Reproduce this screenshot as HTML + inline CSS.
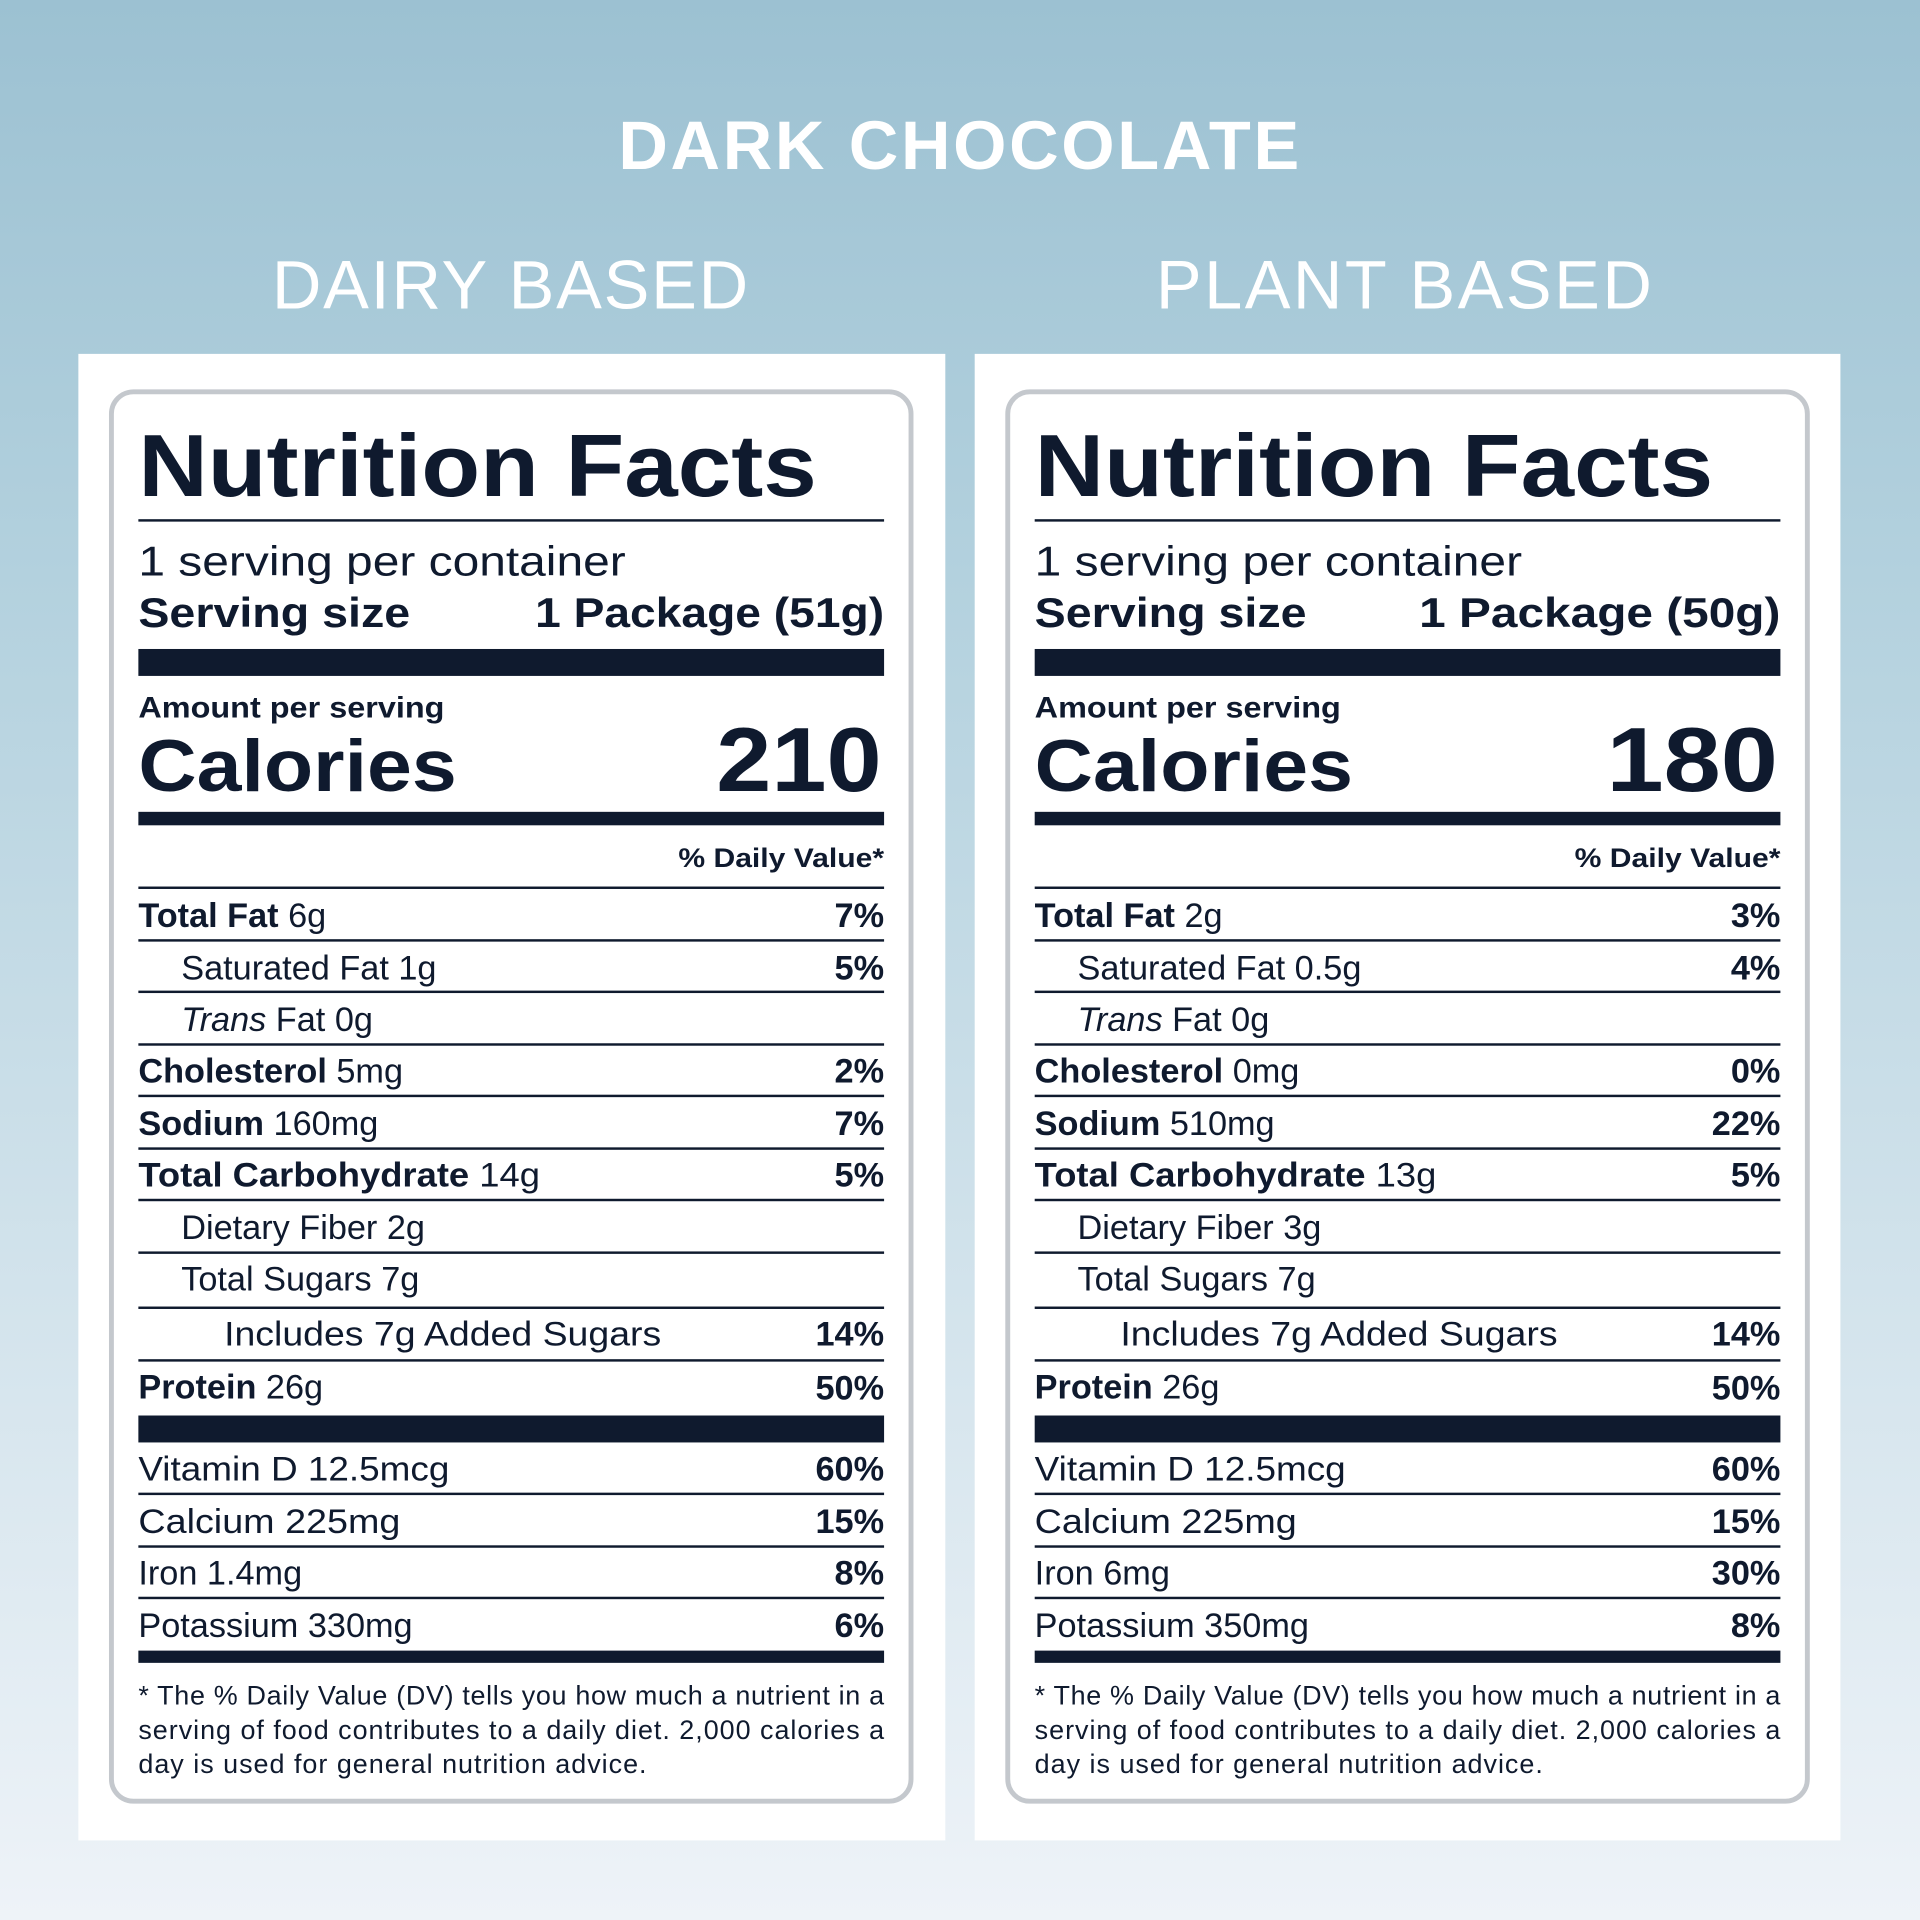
<!DOCTYPE html>
<html><head><meta charset="utf-8"><style>
html,body{margin:0;padding:0;width:1920px;height:1920px;overflow:hidden}
svg{display:block}
text{font-family:"Liberation Sans",sans-serif;fill:#0f1a2e}
.b{font-weight:bold}
.r{font-size:28px}
.p{font-size:28px;font-weight:bold;text-anchor:end}
.f{font-size:22px}
</style></head><body>
<svg width="1920" height="1920" viewBox="0 0 1568 1568" xmlns="http://www.w3.org/2000/svg">
<defs>
<linearGradient id="bg" x1="0" y1="0" x2="0" y2="1">
<stop offset="0" stop-color="#9cc1d2"/><stop offset="0.3" stop-color="#b3d1de"/><stop offset="1" stop-color="#eef3f8"/>
</linearGradient>
<g id="common">
<rect x="91" y="320" width="653" height="1151" rx="18" fill="#fff" stroke="#c4c8cd" stroke-width="4"/>
<text x="113" y="405" class="b" font-size="72" textLength="554" lengthAdjust="spacingAndGlyphs">Nutrition Facts</text>
<rect x="113" y="424" width="609" height="2" fill="#0f1a2e"/>
<text x="113" y="470" font-size="34" textLength="398" lengthAdjust="spacingAndGlyphs">1 serving per container</text>
<text x="113" y="512" class="b" font-size="34" textLength="222" lengthAdjust="spacingAndGlyphs">Serving size</text>
<rect x="113" y="530" width="609" height="22" fill="#0f1a2e"/>
<text x="113" y="586" class="b" font-size="24" textLength="250" lengthAdjust="spacingAndGlyphs">Amount per serving</text>
<text x="113" y="646" class="b" font-size="60" textLength="260" lengthAdjust="spacingAndGlyphs">Calories</text>
<rect x="113" y="663" width="609" height="11" fill="#0f1a2e"/>
<text x="722" y="708" class="b" font-size="22" text-anchor="end" textLength="168" lengthAdjust="spacingAndGlyphs">% Daily Value*</text>
<rect x="113" y="724" width="609" height="2" fill="#0f1a2e"/>
<rect x="113" y="767" width="609" height="2" fill="#0f1a2e"/>
<rect x="113" y="809" width="609" height="2" fill="#0f1a2e"/>
<rect x="113" y="852" width="609" height="2" fill="#0f1a2e"/>
<rect x="113" y="894" width="609" height="2" fill="#0f1a2e"/>
<rect x="113" y="937" width="609" height="2" fill="#0f1a2e"/>
<rect x="113" y="979" width="609" height="2" fill="#0f1a2e"/>
<rect x="113" y="1022" width="609" height="2" fill="#0f1a2e"/>
<rect x="113" y="1067" width="609" height="2" fill="#0f1a2e"/>
<rect x="113" y="1110" width="609" height="2" fill="#0f1a2e"/>
<rect x="113" y="1156" width="609" height="22" fill="#0f1a2e"/>
<rect x="113" y="1219" width="609" height="2" fill="#0f1a2e"/>
<rect x="113" y="1262" width="609" height="2" fill="#0f1a2e"/>
<rect x="113" y="1304" width="609" height="2" fill="#0f1a2e"/>
<rect x="113" y="1348" width="609" height="10" fill="#0f1a2e"/>
<text x="148" y="842" class="r"><tspan font-style="italic">Trans</tspan> Fat 0g</text>
<text x="148" y="1054" class="r">Total Sugars 7g</text>
<text x="183" y="1099" class="r" textLength="357" lengthAdjust="spacingAndGlyphs">Includes 7g Added Sugars</text>
<text x="722" y="1099" class="p">14%</text>
<text x="113" y="1142" class="r"><tspan class="b">Protein</tspan> 26g</text>
<text x="722" y="1143" class="p">50%</text>
<text x="113" y="1209" class="r" textLength="254" lengthAdjust="spacingAndGlyphs">Vitamin D 12.5mcg</text>
<text x="722" y="1209" class="p">60%</text>
<text x="113" y="1252" class="r" textLength="214" lengthAdjust="spacingAndGlyphs">Calcium 225mg</text>
<text x="722" y="1252" class="p">15%</text>
<text x="113" y="1392" class="f" textLength="609">* The % Daily Value (DV) tells you how much a nutrient in a</text>
<text x="113" y="1420" class="f" textLength="609">serving of food contributes to a daily diet. 2,000 calories a</text>
<text x="113" y="1448" class="f" textLength="415">day is used for general nutrition advice.</text>
</g>
</defs>
<rect width="1568" height="1568" fill="url(#bg)"/>
<text x="785" y="138" class="b" font-size="56" text-anchor="middle" style="fill:#fff" letter-spacing="4" textLength="560">DARK CHOCOLATE</text>
<text x="418" y="252" font-size="56" text-anchor="middle" style="fill:#fff" letter-spacing="3" textLength="392">DAIRY BASED</text>
<text x="1148" y="252" font-size="56" text-anchor="middle" style="fill:#fff" letter-spacing="3" textLength="408">PLANT BASED</text>
<rect x="64" y="289" width="708" height="1214" fill="#fff"/>
<rect x="796" y="289" width="707" height="1214" fill="#fff"/>

<g>
<use href="#common"/>
<text x="722" y="512" class="b" font-size="34" text-anchor="end" textLength="285" lengthAdjust="spacingAndGlyphs">1 Package (51g)</text>
<text x="720" y="646" class="b" font-size="74" text-anchor="end" textLength="135" lengthAdjust="spacingAndGlyphs">210</text>
<text x="113" y="757" class="r"><tspan class="b">Total Fat</tspan> 6g</text><text x="722" y="757" class="p">7%</text>
<text x="148" y="800" class="r">Saturated Fat 1g</text><text x="722" y="800" class="p">5%</text>
<text x="113" y="884" class="r"><tspan class="b">Cholesterol</tspan> 5mg</text><text x="722" y="884" class="p">2%</text>
<text x="113" y="927" class="r"><tspan class="b">Sodium</tspan> 160mg</text><text x="722" y="927" class="p">7%</text>
<text x="113" y="969" class="r" textLength="328" lengthAdjust="spacingAndGlyphs"><tspan class="b">Total Carbohydrate</tspan> 14g</text><text x="722" y="969" class="p">5%</text>
<text x="148" y="1012" class="r">Dietary Fiber 2g</text>
<text x="113" y="1294" class="r">Iron 1.4mg</text><text x="722" y="1294" class="p">8%</text>
<text x="113" y="1337" class="r">Potassium 330mg</text><text x="722" y="1337" class="p">6%</text>
</g>

<g transform="translate(732,0)">
<use href="#common"/>
<text x="722" y="512" class="b" font-size="34" text-anchor="end" textLength="295" lengthAdjust="spacingAndGlyphs">1 Package (50g)</text>
<text x="720" y="646" class="b" font-size="74" text-anchor="end" textLength="140" lengthAdjust="spacingAndGlyphs">180</text>
<text x="113" y="757" class="r"><tspan class="b">Total Fat</tspan> 2g</text><text x="722" y="757" class="p">3%</text>
<text x="148" y="800" class="r">Saturated Fat 0.5g</text><text x="722" y="800" class="p">4%</text>
<text x="113" y="884" class="r"><tspan class="b">Cholesterol</tspan> 0mg</text><text x="722" y="884" class="p">0%</text>
<text x="113" y="927" class="r"><tspan class="b">Sodium</tspan> 510mg</text><text x="722" y="927" class="p">22%</text>
<text x="113" y="969" class="r" textLength="328" lengthAdjust="spacingAndGlyphs"><tspan class="b">Total Carbohydrate</tspan> 13g</text><text x="722" y="969" class="p">5%</text>
<text x="148" y="1012" class="r">Dietary Fiber 3g</text>
<text x="113" y="1294" class="r">Iron 6mg</text><text x="722" y="1294" class="p">30%</text>
<text x="113" y="1337" class="r">Potassium 350mg</text><text x="722" y="1337" class="p">8%</text>
</g>
</svg>
</body></html>
